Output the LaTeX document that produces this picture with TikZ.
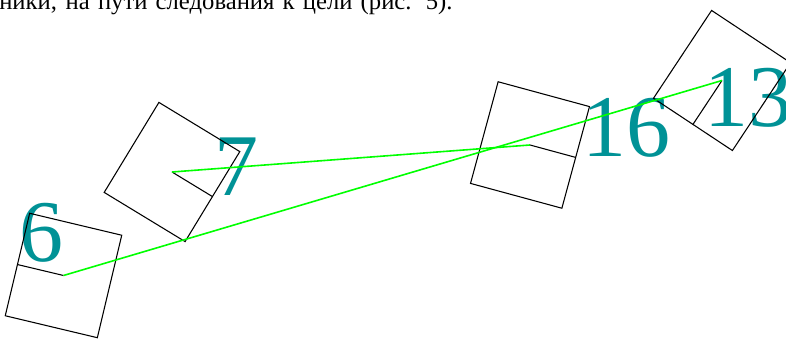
\documentclass[tikz,border=0pt]{standalone}
\usepackage{fontspec}
\setmainfont{Liberation Serif}
\usetikzlibrary{positioning}
\definecolor{labelteal}{RGB}{0,146,150}
\definecolor{pathgreen}{RGB}{0,255,0}

\begin{document}
\begin{tikzpicture}[x=0.75pt,y=-0.75pt,
  cell/.style={draw=black,line width=0.8pt,minimum width=71pt,minimum height=79pt,inner sep=0pt,outer sep=0pt},
  num/.style={text=labelteal,font=\fontsize{66}{70}\selectfont,inner sep=0pt},
  route/.style={draw=pathgreen,line width=1.2pt}]
\useasboundingbox (0,0) rectangle (786,341);
\begin{scope}
\clip (0,0) rectangle (786,341);

% cut-off line of the text above
\node[anchor=base west,font=\fontsize{18.5}{20}\selectfont,inner sep=0pt] (caption) at (-1,9.5) {\makebox[340pt][s]{ники, на пути следования к цели (рис. 5).}};

% cell numbers
\node[num] (l6) at (41,233) {6};
\node[num] (l7) at (236,167) {7};
\node[num] (l16) at (626,128) {16};
\node[num] (l13) at (748,98) {13};

% robots with heading marks
\node[cell,rotate=-13.4] (b6) at (63.5,275.5) {};
\node[cell,rotate=-31.3] (b7) at (172,172) {};
\node[cell,rotate=-15.2] (b16) at (530,145) {};
\node[cell,rotate=-33.5] (b13) at (722,80.5) {};
\draw[line width=0.8pt] (b6.center) -- (b6.west);
\draw[line width=0.8pt] (b7.center) -- (b7.east);
\draw[line width=0.8pt] (b16.center) -- (b16.east);
\draw[line width=0.8pt] (b13.center) -- (b13.south);

% paths to the goals
\draw[route] (b6.center) -- (b13.center);
\draw[route] (b7.center) -- (b16.center);
\end{scope}
\end{tikzpicture}
\end{document}
